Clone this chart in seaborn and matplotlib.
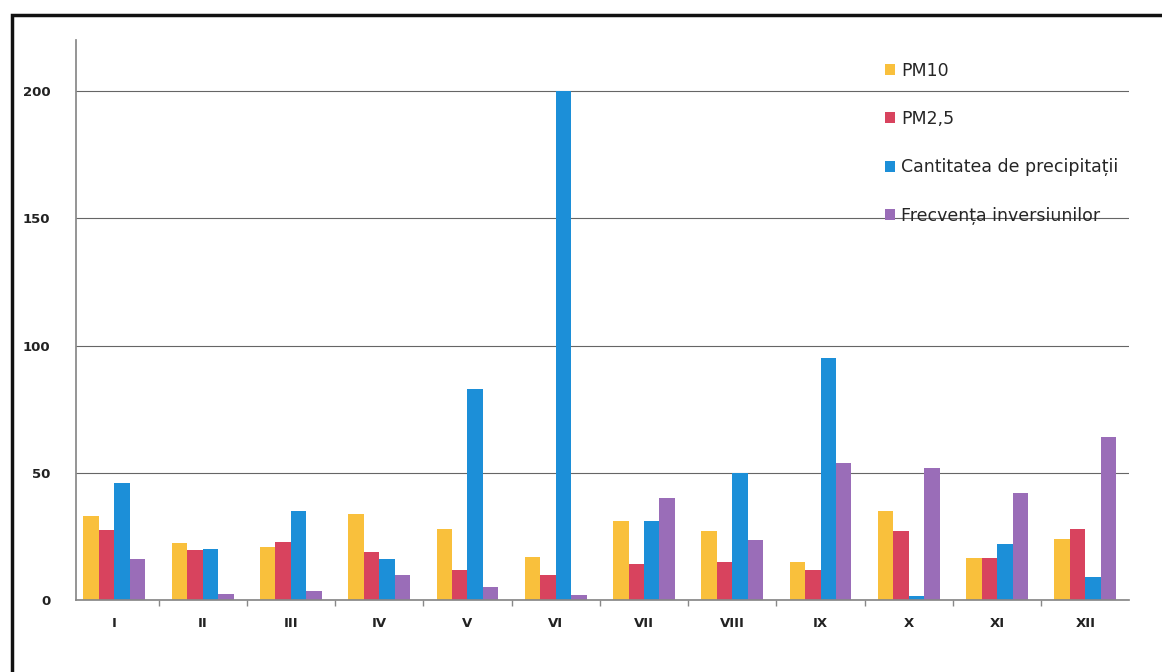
import matplotlib
matplotlib.use("Agg")
import matplotlib.pyplot as plt
import seaborn as sns
import pandas as pd
from matplotlib.patches import Rectangle

months = ["I", "II", "III", "IV", "V", "VI", "VII", "VIII", "IX", "X", "XI", "XII"]
series_names = ["PM10", "PM2,5", "Cantitatea de precipitații", "Frecvența inversiunilor"]
pm10 = [33, 22.5, 21, 34, 28, 17, 31, 27, 15, 35, 16.5, 24]
pm25 = [27.5, 19.5, 23, 19, 12, 10, 14, 15, 12, 27, 16.5, 28]
precip = [46, 20, 35, 16, 83, 200, 31, 50, 95, 1.5, 22, 9]
inversions = [16, 2.5, 3.5, 10, 5, 2, 40, 23.5, 54, 52, 42, 64]
colors = ["#F9C03C", "#D8435E", "#1C8FD8", "#9A6DB8"]

rows = []
for name, vals in zip(series_names, [pm10, pm25, precip, inversions]):
    for m, v in zip(months, vals):
        rows.append({"month": m, "series": name, "value": v})
df = pd.DataFrame(rows)

sns.set_theme(style="white")
plt.rcParams['font.family'] = ['DejaVu Sans']

fig = plt.figure(figsize=(11.62, 6.72), dpi=100)
ax = fig.add_axes([0.065, 0.107, 0.907, 0.833])

sns.barplot(data=df, x="month", y="value", hue="series", order=months,
            hue_order=series_names, palette=colors, width=0.70,
            saturation=1, ax=ax, errorbar=None, linewidth=0)

ax.set_ylim(0, 220)
ax.set_xlim(-0.44, 11.5)
ax.set_yticks([0, 50, 100, 150, 200])
ax.yaxis.grid(True, color="#666666", linewidth=0.8)
ax.set_axisbelow(True)
ax.set_xlabel("")
ax.set_ylabel("")
for s in ["top", "right"]:
    ax.spines[s].set_visible(False)
ax.spines["left"].set_color("#888888")
ax.spines["bottom"].set_color("#888888")
ax.set_xticks([i + 0.5 for i in range(0, 11)], minor=True)
ax.tick_params(axis="x", which="minor", length=4, color="#888888", bottom=True)
ax.tick_params(axis="x", which="major", length=0, pad=12)
ax.tick_params(axis="y", length=0, pad=18)
for lab in ax.get_xticklabels() + ax.get_yticklabels():
    lab.set_fontweight("bold")
    lab.set_fontsize(9.5)
    lab.set_color("#222222")

leg = ax.legend(loc="upper left", bbox_to_anchor=(0.753, 0.99), frameon=False,
                fontsize=12.5, handlelength=0.6, handleheight=0.6,
                labelspacing=1.75, handletextpad=0.35)

fig.patches.append(Rectangle((0.010, -0.1), 1.2, 0.978 + 0.1, transform=fig.transFigure,
                             fill=False, edgecolor="#111111", linewidth=2.5))

fig.savefig("out.png", dpi=100)
